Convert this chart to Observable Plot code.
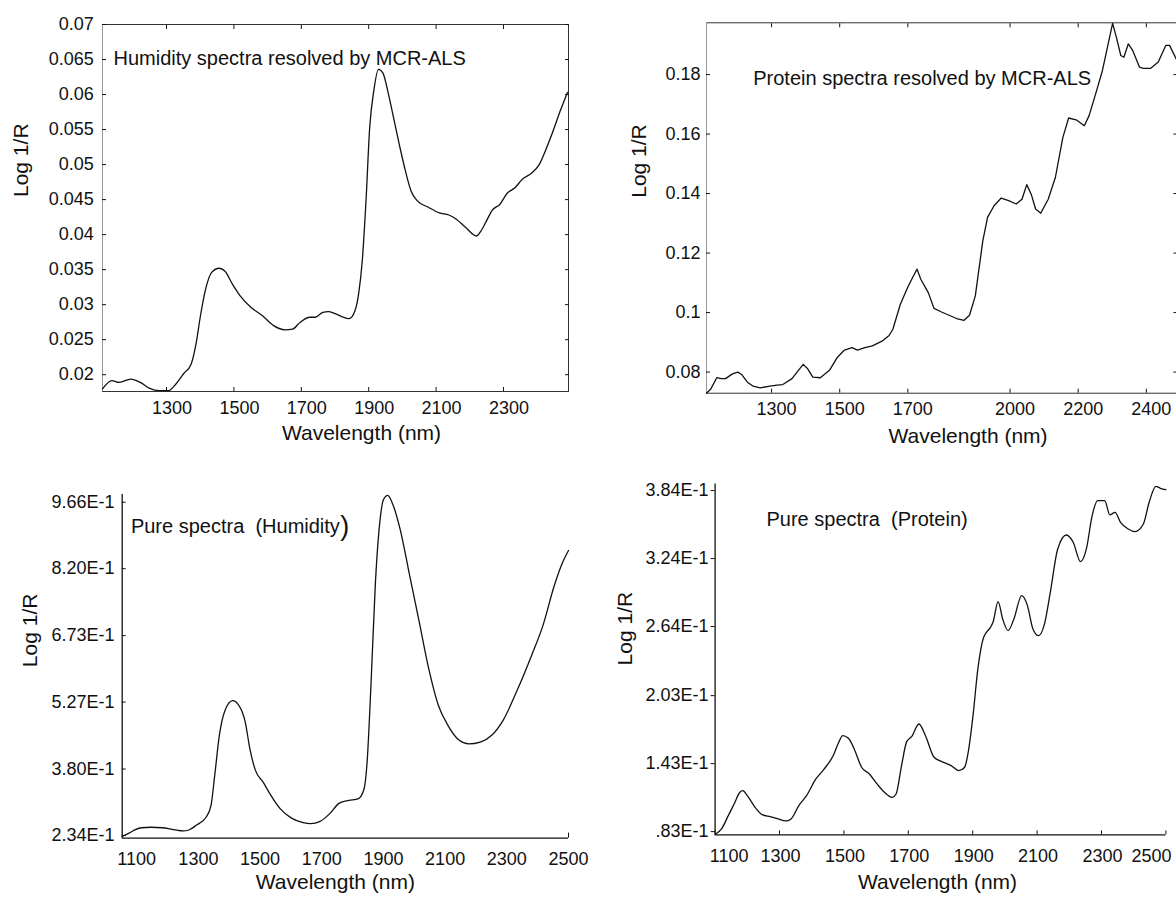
<!DOCTYPE html>
<html><head><meta charset="utf-8">
<script src="https://cdn.jsdelivr.net/npm/d3@7"></script>
<script src="https://cdn.jsdelivr.net/npm/@observablehq/plot@0.6"></script>
<style>
html,body{margin:0;padding:0;background:#fff;overflow:hidden;}
#wrap{position:relative;width:1176px;height:899px;overflow:hidden;background:#fff;}
</style></head>
<body><div id="wrap"></div>
<script>
// ---- Panel 1: Humidity spectra resolved by MCR-ALS ----
const wl1 = [1110,1138,1160,1194,1222,1250,1278,1306,1328,1350,1373,1389,1400,1415,1434,1456,1473,1496,1518,1551,1585,1618,1652,1674,1697,1725,1741,1764,1780,1797,1820,1842,1859,1870,1881,1892,1903,1915,1929,1942,1959,1976,1993,2009,2026,2043,2077,2110,2138,2160,2188,2220,2233,2250,2267,2289,2311,2334,2356,2384,2406,2428,2451,2468,2490];
const v1 = [0.01796,0.01914,0.0189,0.01938,0.0189,0.01805,0.01772,0.01772,0.01867,0.0201,0.0215,0.0248,0.0282,0.0320,0.0346,0.0352,0.0348,0.0329,0.0313,0.0296,0.0284,0.0270,0.0264,0.0265,0.0275,0.0282,0.0282,0.0289,0.0290,0.0288,0.0283,0.0280,0.0291,0.0315,0.0363,0.0448,0.0553,0.0605,0.0636,0.0631,0.0600,0.0562,0.0524,0.0491,0.0462,0.0449,0.0439,0.0431,0.0428,0.0422,0.0410,0.0398,0.0405,0.0420,0.0435,0.0443,0.0459,0.0467,0.0479,0.0488,0.0500,0.0524,0.0553,0.0576,0.0603];
const xDom1 = [1110, 2493];
const yDom1 = [0.0176, 0.07];
const xTicks1 = [1300,1500,1700,1900,2100,2300];
const yTicks1 = [0.02,0.025,0.03,0.035,0.04,0.045,0.05,0.055,0.06,0.065,0.07];
const title1 = "Humidity spectra resolved by MCR-ALS";

// ---- Panel 2: Protein spectra resolved by MCR-ALS ----
const wl2 = [1109,1121,1139,1152,1165,1185,1201,1212,1229,1245,1267,1295,1316,1333,1360,1377,1393,1406,1421,1443,1470,1492,1514,1536,1552,1574,1596,1624,1645,1656,1678,1700,1714,1727,1738,1760,1777,1799,1821,1843,1865,1881,1898,1920,1934,1953,1974,1996,2018,2035,2049,2062,2075,2090,2112,2133,2155,2172,2194,2218,2232,2254,2271,2287,2301,2312,2325,2334,2347,2360,2380,2391,2413,2435,2457,2468,2490];
const v2 = [0.0729,0.0742,0.0781,0.0778,0.0778,0.0794,0.0800,0.0792,0.0766,0.0753,0.0747,0.0753,0.0756,0.0758,0.0778,0.0803,0.0826,0.0811,0.0783,0.0781,0.0806,0.0848,0.0874,0.0882,0.0874,0.0882,0.0888,0.0904,0.0923,0.0944,0.1028,0.1086,0.1118,0.1146,0.1112,0.1067,0.1014,0.1002,0.0991,0.0980,0.0974,0.0991,0.1056,0.1241,0.1320,0.1359,0.1385,0.1376,0.1365,0.1381,0.1430,0.1398,0.1348,0.1334,0.1381,0.1454,0.1589,0.1654,0.1648,0.1628,0.1662,0.1746,0.1813,0.1898,0.1972,0.1926,0.1864,0.1858,0.1903,0.1881,0.1825,0.1821,0.1821,0.1842,0.1898,0.1898,0.1847];
const xDom2 = [1109, 2490];
const yDom2 = [0.0729, 0.1974];
const xTicks2 = [1300,1500,1700,2000,2200,2400];
const yTicks2 = [0.08,0.1,0.12,0.14,0.16,0.18];
const title2 = "Protein spectra resolved by MCR-ALS";

// ---- Panel 3: Pure spectra (Humidity) ----
const wl3 = [1053,1072,1090,1115,1146,1183,1220,1251,1269,1294,1325,1341,1353,1368,1386,1411,1430,1452,1467,1485,1510,1535,1565,1602,1640,1664,1695,1726,1757,1788,1819,1837,1847,1860,1874,1886,1901,1914,1930,1954,1985,2016,2047,2078,2109,2146,2177,2214,2251,2288,2331,2380,2417,2454,2479,2500];
const v3 = [0.232,0.238,0.245,0.251,0.252,0.251,0.247,0.244,0.246,0.257,0.274,0.300,0.366,0.454,0.508,0.530,0.521,0.483,0.424,0.377,0.351,0.322,0.293,0.272,0.262,0.260,0.265,0.282,0.305,0.311,0.315,0.336,0.395,0.571,0.790,0.907,0.973,0.981,0.962,0.907,0.805,0.703,0.600,0.520,0.476,0.443,0.435,0.439,0.454,0.487,0.549,0.629,0.695,0.783,0.831,0.860];
const xDom3 = [1053, 2500];
const yDom3 = [0.228, 0.983];
const xTicks3 = [1100,1300,1500,1700,1900,2100,2300,2500];
const yTicks3 = [0.234,0.380,0.527,0.673,0.820,0.966];
const yLabels3 = ["2.34E-1","3.80E-1","5.27E-1","6.73E-1","8.20E-1","9.66E-1"];
const title3 = "Pure spectra  (Humidity";
const title3End = ")";

// ---- Panel 4: Pure spectra (Protein) ----
const wl4 = [1102,1120,1141,1159,1177,1186,1200,1224,1248,1271,1295,1319,1336,1360,1384,1413,1437,1467,1484,1496,1514,1532,1555,1579,1603,1626,1650,1662,1679,1695,1711,1733,1754,1780,1804,1833,1857,1875,1886,1901,1916,1934,1955,1963,1979,1993,2010,2028,2052,2070,2087,2105,2123,2141,2164,2191,2212,2235,2253,2271,2288,2310,2326,2342,2359,2383,2404,2430,2448,2469,2483,2500];
const v4 = [0.0809,0.0854,0.0971,0.1074,0.1177,0.1192,0.1148,0.1045,0.0977,0.0962,0.0942,0.0924,0.0942,0.1059,0.1148,0.1295,0.1377,0.1501,0.1618,0.1677,0.1654,0.1560,0.1398,0.1339,0.1251,0.1177,0.1133,0.1162,0.1413,0.1624,0.1671,0.1780,0.1671,0.1486,0.1448,0.1413,0.1368,0.1398,0.1530,0.1854,0.2266,0.2545,0.2633,0.2678,0.2860,0.2707,0.2604,0.2707,0.2913,0.2825,0.2619,0.2560,0.2663,0.2942,0.3325,0.3448,0.3384,0.3213,0.3325,0.3619,0.3751,0.3751,0.3625,0.3648,0.3560,0.3501,0.3478,0.3545,0.3737,0.3878,0.3860,0.3848];
const xDom4 = [1100, 2500];
const yDom4 = [0.0801, 0.3899];
const xTicks4 = [1100,1300,1500,1700,1900,2100,2300,2500];
const yTicks4 = [0.083,0.143,0.203,0.264,0.324,0.384];
const yLabels4 = [".83E-1","1.43E-1","2.03E-1","2.64E-1","3.24E-1","3.84E-1"];
const title4 = "Pure spectra  (Protein)";

const xLabel = "Wavelength (nm)";
const yLabel = "Log 1/R";

// ---- helpers ----
const rows = (xs, ys) => xs.map((x, i) => ({wl: x, v: ys[i]}));
const font = "'Liberation Sans', Arial, Helvetica, sans-serif";
const style = {fontFamily: font, fontSize: "18px", color: "#111", background: "transparent", overflow: "visible"};
const line = {x: "wl", y: "v", stroke: "#111", strokeWidth: 1.3};
const none = () => "";
const plain = (d) => String(d);
const wrap = document.getElementById("wrap");
function place(svg, left, top) {
  svg.style.position = "absolute";
  svg.style.left = left + "px";
  svg.style.top = top + "px";
  wrap.appendChild(svg);
}
const fmtNum = (p) => (d) => String(+d.toFixed(p));
const fmtLab = (ticks, labels) => (d) => labels[ticks.indexOf(d)];

// ---- Panel 1 ----
place(Plot.plot({
  width: 590, height: 450, marginLeft: 102, marginRight: 22, marginTop: 24, marginBottom: 59,
  style, x: {domain: xDom1}, y: {domain: yDom1},
  marks: [
    Plot.frame({stroke: "#333"}),
    Plot.ruleX(xDom1.slice(0, 1), {stroke: "#999"}),
    Plot.axisY({ticks: yTicks1, anchor: "left", tickSize: -4, tickPadding: 12.7, tickFormat: fmtNum(3), label: null}),
    Plot.axisY({ticks: yTicks1, anchor: "right", tickSize: -4, tickFormat: none, label: null}),
    Plot.axisX({ticks: xTicks1, anchor: "top", tickSize: -4, tickFormat: none, label: null}),
    Plot.axisX({ticks: xTicks1, anchor: "bottom", tickSize: -4, tickFormat: none, label: null}),
    Plot.axisX({ticks: xTicks1, anchor: "bottom", tickSize: 0, tickPadding: 9.4, dx: 5.5, tickFormat: plain, label: null}),
    Plot.lineY(rows(wl1, v1), {...line, curve: "monotone-x"}),
    Plot.text([title1], {frameAnchor: "top-left", textAnchor: "start", dx: 11, dy: 26, fontSize: 20}),
    Plot.text([xLabel], {frameAnchor: "bottom", dx: 26, dy: 48, fontSize: 21}),
    Plot.text([yLabel], {frameAnchor: "left", rotate: -90, dx: -81, dy: -11, fontSize: 21})
  ]
}), 0, 0);

// ---- Panel 2 ----
place(Plot.plot({
  width: 590, height: 450, marginLeft: 116, marginRight: 3.5, marginTop: 22.3, marginBottom: 57.3,
  style, x: {domain: xDom2}, y: {domain: yDom2},
  marks: [
    Plot.frame({stroke: "#333"}),
    Plot.ruleX(xDom2.slice(0, 1), {stroke: "#999"}),
    Plot.axisY({ticks: yTicks2, anchor: "left", tickSize: -4, tickPadding: 10, tickFormat: fmtNum(2), label: null}),
    Plot.axisY({ticks: yTicks2, anchor: "right", tickSize: -4, tickFormat: none, label: null}),
    Plot.axisX({ticks: xTicks2, anchor: "top", tickSize: -4, tickFormat: none, label: null}),
    Plot.axisX({ticks: xTicks2, anchor: "bottom", tickSize: -4, tickFormat: none, label: null}),
    Plot.axisX({ticks: xTicks2, anchor: "bottom", tickSize: 0, tickPadding: 9, dx: 5, tickFormat: plain, label: null}),
    Plot.lineY(rows(wl2, v2), {...line}),
    Plot.text([title2], {frameAnchor: "top-left", textAnchor: "start", dx: 46.7, dy: 48.3, fontSize: 20}),
    Plot.text([xLabel], {frameAnchor: "bottom", dx: 26.3, dy: 49.3, fontSize: 21}),
    Plot.text([yLabel], {frameAnchor: "left", rotate: -90, dx: -67.2, dy: -10.2, fontSize: 21})
  ]
}), 590, 0);

// ---- Panel 3 ----
place(Plot.plot({
  width: 590, height: 449, marginLeft: 121.7, marginRight: 22, marginTop: 44, marginBottom: 61.3,
  style, x: {domain: xDom3}, y: {domain: yDom3},
  marks: [
    Plot.ruleX(xDom3.slice(0, 1), {stroke: "#111", strokeWidth: 1.3}),
    Plot.ruleY(yDom3.slice(0, 1), {stroke: "#111", strokeWidth: 1.3}),
    Plot.axisY({ticks: yTicks3, anchor: "left", tickSize: -4, tickPadding: 11.7, tickFormat: fmtLab(yTicks3, yLabels3), label: null}),
    Plot.axisX({ticks: xTicks3, anchor: "bottom", tickSize: 0, tickPadding: 14.3, tickFormat: plain, label: null}),
    Plot.axisX({ticks: xTicks3.slice(-1), anchor: "bottom", tickSize: -5, tickFormat: none, label: null}),
    Plot.lineY(rows(wl3, v3), {...line, curve: "monotone-x"}),
    Plot.text([title3], {frameAnchor: "top-left", textAnchor: "start", dx: 8.7, dy: 24.4, fontSize: 20}),
    Plot.text([title3End], {frameAnchor: "top-left", textAnchor: "start", dx: 218, dy: 21.5, fontSize: 27}),
    Plot.text([xLabel], {frameAnchor: "bottom", dx: -10, dy: 50.7, fontSize: 21}),
    Plot.text([yLabel], {frameAnchor: "left", rotate: -90, dx: -92.2, dy: 0.8, fontSize: 21})
  ]
}), 0, 450);

// ---- Panel 4 ----
place(Plot.plot({
  width: 586, height: 449, marginLeft: 124.6, marginRight: 10.6, marginTop: 33.4, marginBottom: 64.6,
  style, x: {domain: xDom4}, y: {domain: yDom4},
  marks: [
    Plot.ruleX(xDom4.slice(0, 1), {stroke: "#111", strokeWidth: 1.3}),
    Plot.ruleY(yDom4.slice(0, 1), {stroke: "#111", strokeWidth: 1.3}),
    Plot.axisY({ticks: yTicks4, anchor: "left", tickSize: 4, tickPadding: 2.6, tickFormat: fmtLab(yTicks4, yLabels4), label: null}),
    Plot.axisX({ticks: xTicks4, anchor: "bottom", tickSize: -4, tickFormat: none, label: null}),
    Plot.axisX({ticks: xTicks4.slice(1, -1), anchor: "bottom", tickSize: 0, tickPadding: 14.3, dx: 1, tickFormat: plain, label: null}),
    Plot.axisX({ticks: xTicks4.slice(0, 1), anchor: "bottom", tickSize: 0, tickPadding: 14.3, dx: 14, tickFormat: plain, label: null}),
    Plot.axisX({ticks: xTicks4.slice(-1), anchor: "bottom", tickSize: 0, tickPadding: 14.3, dx: -14.5, tickFormat: plain, label: null}),
    Plot.lineY(rows(wl4, v4), {...line, curve: "monotone-x"}),
    Plot.text([title4], {frameAnchor: "top-left", textAnchor: "start", dx: 51.4, dy: 28.3, fontSize: 20}),
    Plot.text([xLabel], {frameAnchor: "bottom", dx: -3, dy: 53.6, fontSize: 21}),
    Plot.text([yLabel], {frameAnchor: "left", rotate: -90, dx: -89.6, dy: 6, fontSize: 21})
  ]
}), 590, 450);
</script>
</body></html>
